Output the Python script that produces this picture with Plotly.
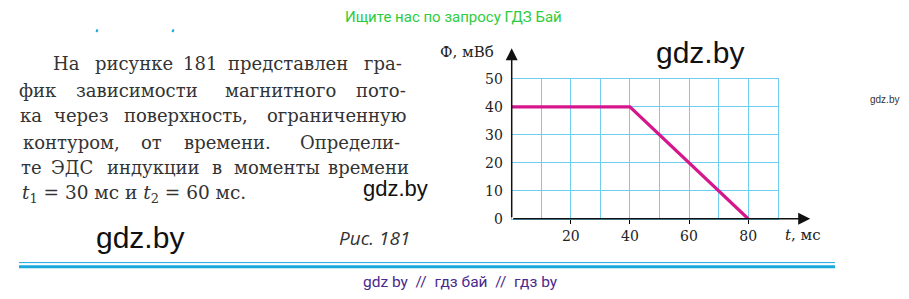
import plotly.graph_objects as go

# ---- data ----
t_ms = [0, 40, 80]
phi_mwb = [40, 40, 0]
x_tick_vals = [20, 40, 60, 80]
x_tick_text = ["20", "40", "60", "80"]
y_tick_vals = [0, 10, 20, 30, 40, 50]
y_tick_text = ["0", "10", "20", "30", "40", "50"]
x_label = "<i>t</i>, мс"
y_label = "Ф, мВб"

# paragraph words: (text, center_x_px)
para_lines = [
    [("На", 66), ("рисунке", 134), ("181", 200), ("представлен", 288), ("гра-", 383)],
    [("фик", 38), ("зависимости", 137), ("магнитного", 280), ("пото-", 381)],
    [("ка", 31), ("через", 81), ("поверхность,", 186), ("ограниченную", 336)],
    [("контуром,", 71), ("от", 151), ("времени.", 227), ("Определи-", 350)],
    [("те", 31), ("ЭДС", 72), ("индукции", 153), ("в", 217), ("моменты", 277), ("времени", 368)],
]
last_line = "<i>t</i><sub>1</sub> = 30 мс и <i>t</i><sub>2</sub> = 60 мс."
line_y = [59, 87, 114, 142, 169, 197]

W, H = 909, 299
X0, X90 = 511.7, 777.7
Y0, Y50 = 222.7, 75.0

fig = go.Figure()
fig.add_trace(go.Scatter(x=t_ms, y=phi_mwb, mode="lines",
                         line=dict(color="#d6168c", width=3.2),
                         hoverinfo="skip", showlegend=False, cliponaxis=False))

gridc = "#6fcdef"
serif = "DejaVu Serif"

fig.update_layout(
    width=W, height=H, margin=dict(l=0, r=0, t=0, b=0),
    paper_bgcolor="white", plot_bgcolor="white", showlegend=False,
    xaxis=dict(domain=[X0 / W, X90 / W], range=[0, 90], tickvals=x_tick_vals,
               ticktext=x_tick_text, showgrid=True, gridcolor=gridc, gridwidth=1,
               minor=dict(dtick=10, showgrid=True, gridcolor=gridc, gridwidth=1),
               zeroline=False, showline=True, mirror=True, linecolor=gridc, linewidth=1,
               ticks="outside", ticklen=4, tickcolor="black", tickwidth=1,
               tickfont=dict(family=serif, size=14, color="#222"), fixedrange=True),
    yaxis=dict(domain=[(H - Y0) / H, (H - Y50) / H], range=[0, 50], tickvals=y_tick_vals,
               ticktext=y_tick_text, showgrid=True, gridcolor=gridc, gridwidth=1,
               zeroline=False, showline=True, mirror=True, linecolor=gridc, linewidth=1,
               ticks="outside", ticklen=5, tickcolor="rgba(0,0,0,0)",
               tickfont=dict(family=serif, size=14, color="#222"), fixedrange=True),
)


def txt(x, y, text, size, color, family, xanchor="center"):
    return dict(x=x / W, y=1 - y / H, xref="paper", yref="paper", text=text,
                xanchor=xanchor, yanchor="middle", showarrow=False,
                font=dict(family=family, size=size, color=color))


ann = []
# axes with arrows
ann.append(dict(x=101, y=0, ax=0, ay=0, xref="x", yref="y", axref="x", ayref="y",
                text="", showarrow=True, arrowhead=2, arrowsize=1.6, arrowwidth=1.5,
                arrowcolor="#111"))
ann.append(dict(x=0, y=61, ax=0, ay=0, xref="x", yref="y", axref="x", ayref="y",
                text="", showarrow=True, arrowhead=2, arrowsize=1.6, arrowwidth=1.5,
                arrowcolor="#111"))
# axis labels
ann.append(txt(467, 46, y_label, 15, "#222", serif))
ann.append(txt(783, 240, x_label, 15, "#222", serif, "left"))

# paragraph
for li, words in enumerate(para_lines):
    for w, cx in words:
        ann.append(txt(cx, line_y[li], w, 18, "#333", serif))
ann.append(txt(20, line_y[5], last_line, 18.5, "#333", serif, "left"))

# caption & watermarks
sans = "Liberation Sans"
ann.append(txt(374, 243, "<i>Рис. 181</i>", 19, "#333", "Open Sans"))
ann.append(txt(140, 243, "gdz.by", 30, "#111", sans))
ann.append(txt(700, 47, "gdz.by", 30, "#111", sans))
ann.append(txt(395, 191, "gdz.by", 22, "#111", sans))
ann.append(txt(884, 97, "gdz.by", 10, "#333", sans))
ann.append(txt(453, 10, "Ищите нас по запросу ГДЗ Бай", 15, "#2ecc40", "Roboto"))
ann.append(txt(460, 289, "gdz by  //  гдз бай  //  гдз by", 15.5, "#4a2a8c", "Roboto"))
fig.update_layout(annotations=ann)

shapes = [
    dict(type="line", xref="paper", yref="paper", x0=19 / W, x1=835 / W,
         y0=1 - 269 / H, y1=1 - 269 / H, line=dict(color="#1ba8dd", width=1)),
    dict(type="line", xref="paper", yref="paper", x0=19 / W, x1=835 / W,
         y0=1 - 273.5 / H, y1=1 - 273.5 / H, line=dict(color="#1ba8dd", width=3)),
    dict(type="line", xref="paper", yref="paper", x0=96.5 / W, x1=97.5 / W,
         y0=1 - 25.5 / H, y1=1 - 22.5 / H, line=dict(color="#1ba8dd", width=2)),
    dict(type="line", xref="paper", yref="paper", x0=172.5 / W, x1=173.5 / W,
         y0=1 - 25.5 / H, y1=1 - 22.5 / H, line=dict(color="#1ba8dd", width=2)),
]
fig.update_layout(shapes=shapes)

fig.write_html("out.html")
